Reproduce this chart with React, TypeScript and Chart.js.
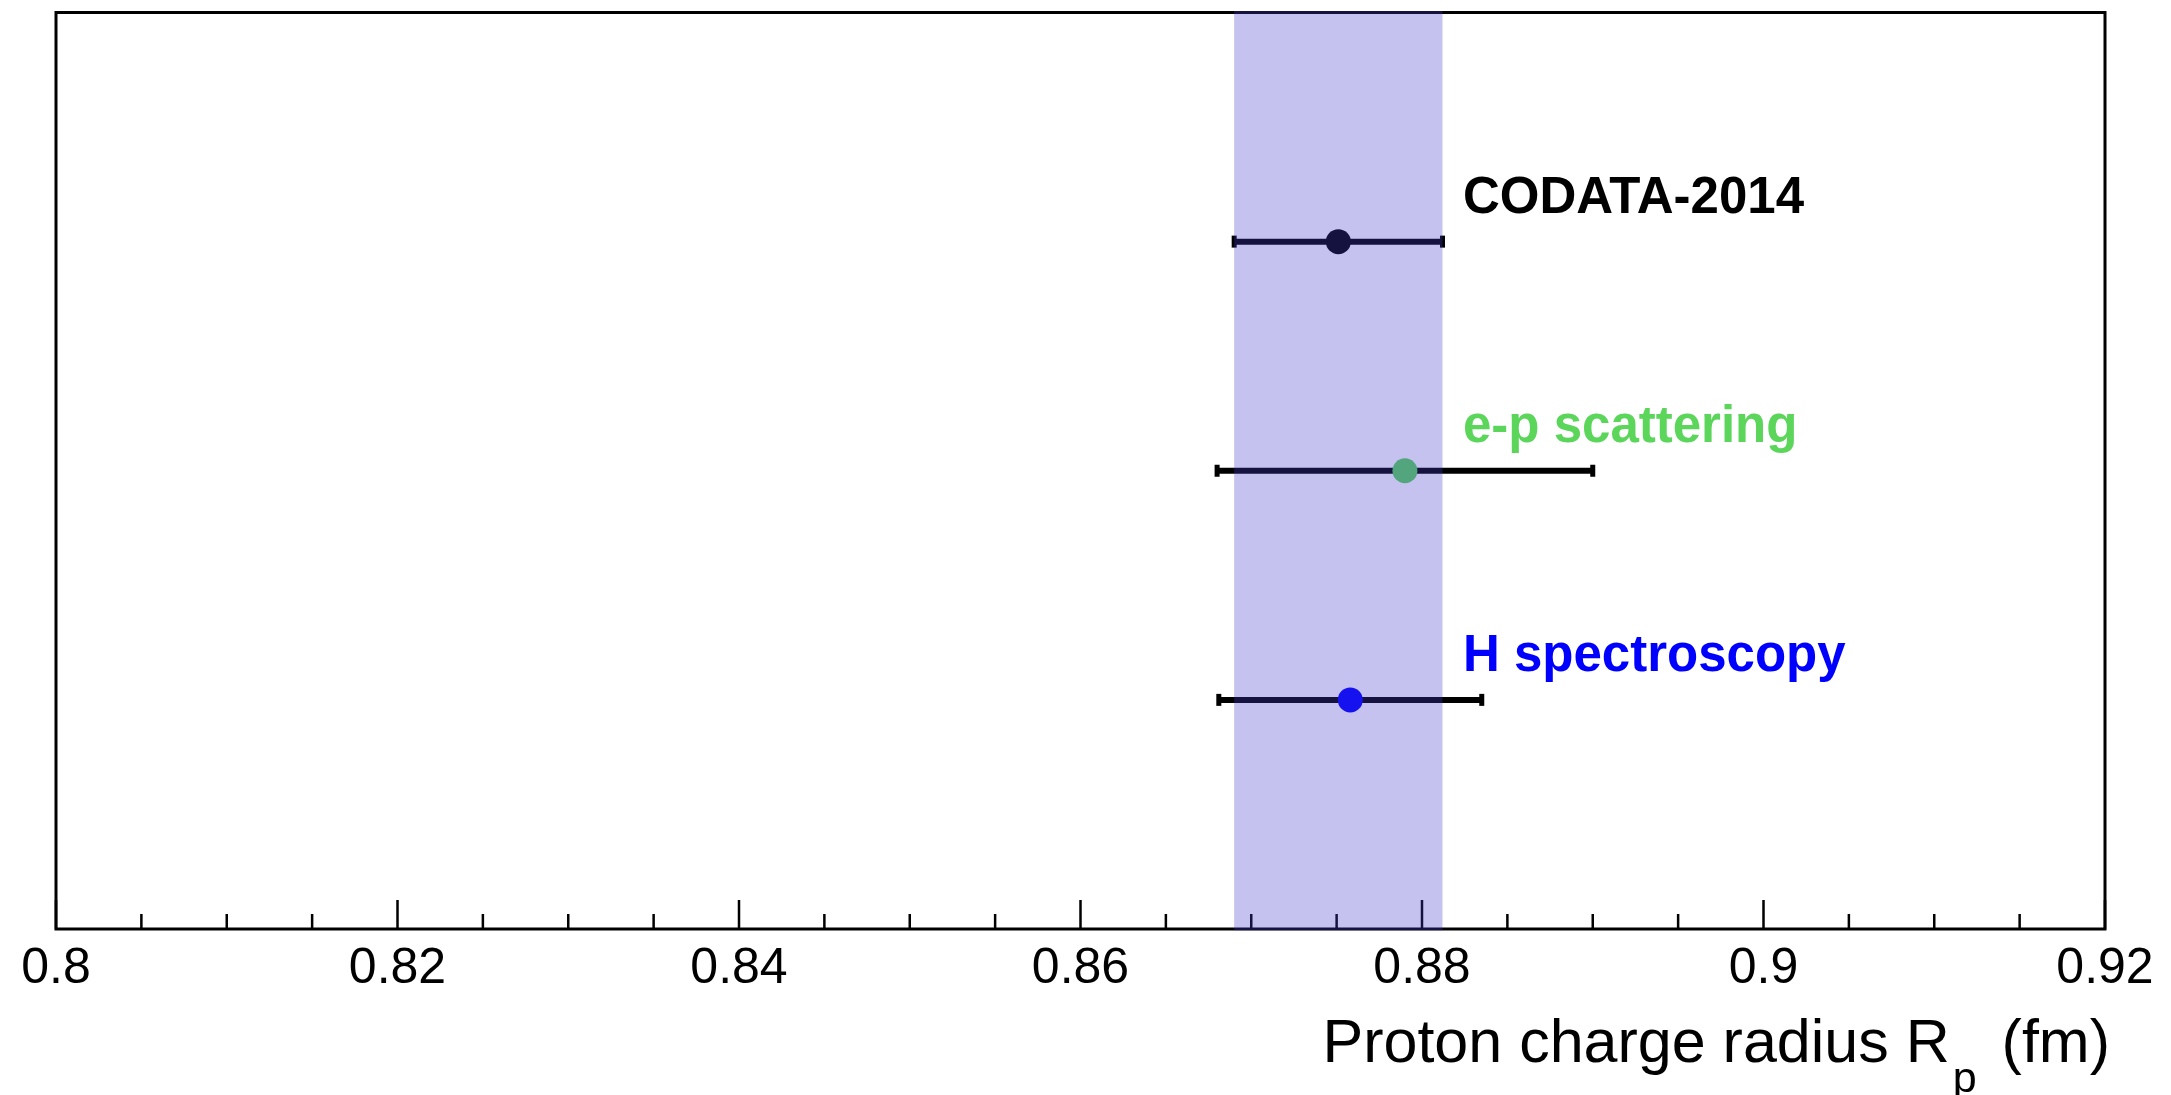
import React, { useEffect, useRef } from "react";
import { Chart, registerables } from "chart.js";

Chart.register(...registerables);

// ---- data ----
const measurements = ["CODATA-2014", "e-p scattering", "H spectroscopy"];
const radiusValues = [0.8751, 0.879, 0.8758];
const radiusErrors = [0.0061, 0.011, 0.0077];
const rowPositions = [3, 2, 1];
const markerColors = ["#000000", "#5bd65b", "#0000ff"];
const labelColors = ["#000000", "#5bd65b", "#0000ff"];

const majorTickValues = [0.8, 0.82, 0.84, 0.86, 0.88, 0.9, 0.92];
const tickLabels = ["0.8", "0.82", "0.84", "0.86", "0.88", "0.9", "0.92"];
const minorTickValues = [
  0.805, 0.81, 0.815, 0.825, 0.83, 0.835, 0.845, 0.85, 0.855, 0.865, 0.87,
  0.875, 0.885, 0.89, 0.895, 0.905, 0.91, 0.915,
];

const X_MIN = 0.8;
const X_MAX = 0.92;
const Y_MIN = 0;
const Y_MAX = 4;
const LABEL_X = 0.8824;
const LABEL_DY = 0.125;
const FONT = "'Liberation Sans', Arial, Helvetica, sans-serif";

const overlayPlugin = {
  id: "rootStyle",
  beforeDatasetsDraw(chart: any) {
    const { ctx } = chart;
    const xs = chart.scales.x;
    const ys = chart.scales.y;
    ctx.save();
    ctx.strokeStyle = "#000000";
    ctx.fillStyle = "#000000";
    ctx.lineWidth = 6;
    for (let i = 0; i < radiusValues.length; i++) {
      const x1 = xs.getPixelForValue(radiusValues[i] - radiusErrors[i]);
      const x2 = xs.getPixelForValue(radiusValues[i] + radiusErrors[i]);
      const y = ys.getPixelForValue(rowPositions[i]);
      ctx.beginPath();
      ctx.moveTo(x1, y);
      ctx.lineTo(x2, y);
      ctx.stroke();
      ctx.fillRect(x1 - 2.5, y - 6, 5, 12);
      ctx.fillRect(x2 - 2.5, y - 6, 5, 12);
    }
    ctx.restore();
  },
  afterDraw(chart: any) {
    const { ctx, chartArea } = chart;
    const xs = chart.scales.x;
    const ys = chart.scales.y;
    ctx.save();
    // frame
    ctx.strokeStyle = "#000000";
    ctx.lineWidth = 3;
    ctx.strokeRect(
      chartArea.left,
      chartArea.top,
      chartArea.right - chartArea.left,
      chartArea.bottom - chartArea.top
    );
    // tick marks (inward)
    ctx.lineWidth = 2.5;
    ctx.beginPath();
    for (const v of majorTickValues) {
      const x = xs.getPixelForValue(v);
      ctx.moveTo(x, chartArea.bottom);
      ctx.lineTo(x, chartArea.bottom - 29);
    }
    for (const v of minorTickValues) {
      const x = xs.getPixelForValue(v);
      ctx.moveTo(x, chartArea.bottom);
      ctx.lineTo(x, chartArea.bottom - 15);
    }
    ctx.stroke();

    // CODATA band overlay
    const bx1 = xs.getPixelForValue(radiusValues[0] - radiusErrors[0]);
    const bx2 = xs.getPixelForValue(radiusValues[0] + radiusErrors[0]);
    ctx.fillStyle = "rgba(68,58,203,0.31)";
    ctx.fillRect(bx1, chartArea.top - 1.5, bx2 - bx1, chartArea.bottom - chartArea.top + 3);

    // measurement labels
    ctx.font = `bold 51px ${FONT}`;
    ctx.textAlign = "left";
    ctx.textBaseline = "alphabetic";
    for (let i = 0; i < measurements.length; i++) {
      ctx.fillStyle = labelColors[i];
      ctx.fillText(
        measurements[i],
        xs.getPixelForValue(LABEL_X),
        ys.getPixelForValue(rowPositions[i] + LABEL_DY)
      );
    }

    // axis title with subscript
    ctx.fillStyle = "#000000";
    const mainFont = `61px ${FONT}`;
    const subFont = `43px ${FONT}`;
    const partA = "Proton charge radius R";
    const partSub = "p";
    const partB = " (fm)";
    const gapBefore = 3;
    const gapAfter = 8;
    ctx.font = mainFont;
    const wA = ctx.measureText(partA).width;
    const wB = ctx.measureText(partB).width;
    ctx.font = subFont;
    const wSub = ctx.measureText(partSub).width;
    const total = wA + gapBefore + wSub + gapAfter + wB;
    let x0 = chartArea.right + 5 - total;
    const baseY = chartArea.bottom + 133;
    ctx.font = mainFont;
    ctx.fillText(partA, x0, baseY);
    x0 += wA + gapBefore;
    ctx.font = subFont;
    ctx.fillText(partSub, x0, baseY + 30);
    x0 += wSub + gapAfter;
    ctx.font = mainFont;
    ctx.fillText(partB, x0, baseY);
    ctx.restore();
  },
};

export default function App() {
  const canvasRef = useRef<HTMLCanvasElement | null>(null);

  useEffect(() => {
    if (!canvasRef.current) return;
    const chart = new Chart(canvasRef.current, {
      type: "scatter",
      data: {
        datasets: [
          {
            label: "measurements",
            data: radiusValues.map((v, i) => ({ x: v, y: rowPositions[i] })),
            pointRadius: 12.5,
            pointHoverRadius: 12.5,
            pointBorderWidth: 0,
            pointBackgroundColor: markerColors,
            pointBorderColor: markerColors,
            showLine: false,
          },
        ],
      },
      options: {
        animation: false,
        responsive: false,
        maintainAspectRatio: false,
        devicePixelRatio: 1,
        events: [],
        layout: { padding: { left: 56, right: 66, top: 11, bottom: 0 } },
        plugins: {
          legend: { display: false },
          tooltip: { enabled: false },
          title: { display: false },
        },
        scales: {
          x: {
            type: "linear",
            position: "bottom",
            min: X_MIN,
            max: X_MAX,
            grid: { display: false },
            border: { display: false },
            afterBuildTicks: (scale: any) => {
              scale.ticks = majorTickValues.map((v) => ({ value: v }));
            },
            afterFit: (scale: any) => {
              scale.height = 166;
            },
            ticks: {
              autoSkip: false,
              maxRotation: 0,
              minRotation: 0,
              padding: 2,
              color: "#000000",
              font: { family: FONT, size: 50 },
              callback: (_v: any, i: number) => tickLabels[i],
            },
          },
          y: {
            type: "linear",
            min: Y_MIN,
            max: Y_MAX,
            display: false,
          },
        },
      },
      plugins: [overlayPlugin],
    });
    return () => chart.destroy();
  }, []);

  return (
    <div style={{ position: "fixed", left: 0, top: 0, width: 2171, height: 1095, background: "#ffffff" }}>
      <canvas ref={canvasRef} width={2171} height={1095} style={{ display: "block" }} />
    </div>
  );
}
